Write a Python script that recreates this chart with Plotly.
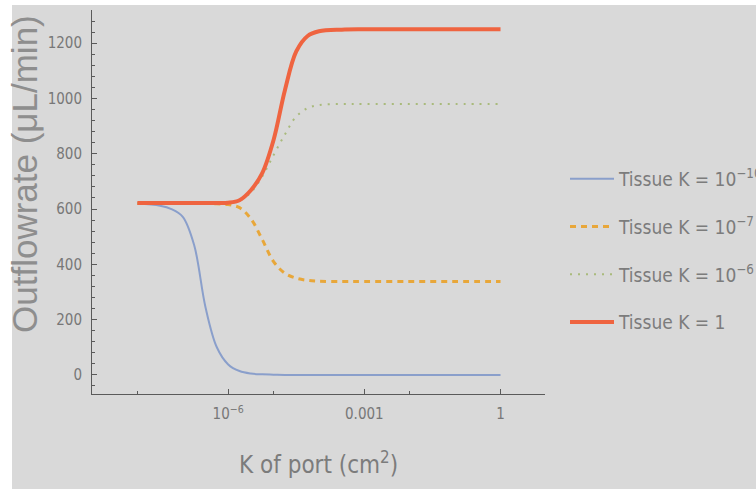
import plotly.graph_objects as go

# log10 of port permeability K (cm^2)
k_exp = [-8, -7.5, -7.25, -7, -6.75, -6.5, -6.25, -6, -5.75, -5.5, -5.25, -5,
         -4.75, -4.5, -4.25, -4, -3.5, -3, -2, -1, 0]
k_port = [10 ** e for e in k_exp]

series_names = ["Tissue K = 10<sup>−10</sup>", "Tissue K = 10<sup>−7</sup>",
                "Tissue K = 10<sup>−6</sup>", "Tissue K = 1"]

tissue_1e_10 = [620, 612, 600, 572, 470, 245, 100, 38, 14, 5, 2, 1,
                0, 0, 0, 0, 0, 0, 0, 0, 0]
tissue_1e_7 = [620, 620, 620, 620, 620, 620, 619, 616, 605, 565, 490, 410,
               368, 350, 342, 339, 338, 338, 338, 338, 338]
tissue_1e_6 = [620, 620, 620, 620, 620, 620, 620, 621, 630, 660, 718, 795,
               870, 935, 965, 976, 980, 980, 980, 980, 980]
tissue_1 = [622, 622, 622, 622, 622, 622, 622, 623, 632, 668, 730, 850,
            1030, 1170, 1226, 1243, 1249, 1250, 1250, 1250, 1250]

x_tickvals = [1e-6, 1e-3, 1]
x_ticktext = ["10<sup>−6</sup>", "0.001", "1"]
x_minorvals = [1e-8, 1e-5, 1e-2]
y_tickvals = [0, 200, 400, 600, 800, 1000, 1200]

styles = [
    dict(color="#8a9fcb", width=2, dash="solid"),
    dict(color="#e8a73a", width=3, dash="6px,5px"),
    dict(color="#a9ba7c", width=2, dash="2px,6px"),
    dict(color="#ef6440", width=4, dash="solid"),
]
series = [tissue_1e_10, tissue_1e_7, tissue_1e_6, tissue_1]

NARROW = "DejaVu Sans Condensed, Liberation Sans, sans-serif"

fig = go.Figure()
for i, (name, vals, st) in enumerate(zip(series_names, series, styles)):
    fig.add_trace(go.Scatter(
        x=k_port, y=vals, mode="lines", name=name,
        line=dict(color=st["color"], width=st["width"], dash=st["dash"],
                  shape="spline", smoothing=1.0),
        legendgroup=f"g{i}",
    ))

# pixel geometry helpers
W, H = 756, 489
L, R, T, B = 92, 211, 10, 95
PW, PH = W - L - R, H - T - B


def px_x(p):
    return (p - L) / PW


def px_y(p):
    return (H - B - p) / PH


fig.update_layout(
    width=W, height=H,
    margin=dict(l=L, r=R, t=T, b=B, autoexpand=False),
    paper_bgcolor="#d9d9d9",
    plot_bgcolor="rgba(0,0,0,0)",
    showlegend=True,
    legend=dict(
        x=px_x(565), y=px_y(160), xanchor="left", yanchor="top",
        bgcolor="rgba(0,0,0,0)",
        font=dict(family=NARROW, size=19, color="#7c7c7c"),
        itemwidth=44, tracegroupgap=20,
    ),
    xaxis=dict(
        type="log", range=[-9.0, 0.98],
        showline=True, linecolor="#5a5a5a", linewidth=1,
        showgrid=False, zeroline=False,
        tickmode="array", tickvals=x_tickvals, ticktext=x_ticktext,
        ticks="inside", ticklen=5, tickcolor="#5a5a5a",
        minor=dict(tickmode="array", tickvals=x_minorvals, ticks="inside",
                   ticklen=3, tickcolor="#5a5a5a"),
        tickfont=dict(family=NARROW, size=15, color="#777777"),
        ticklabelstandoff=6,
    ),
    yaxis=dict(
        range=[-69, 1320],
        showline=True, linecolor="#5a5a5a", linewidth=1,
        showgrid=False, zeroline=False,
        tickmode="array", tickvals=y_tickvals,
        ticks="inside", ticklen=5, tickcolor="#5a5a5a",
        minor=dict(dtick=40, tick0=0, ticks="inside", ticklen=3,
                   tickcolor="#5a5a5a"),
        tickfont=dict(family=NARROW, size=15, color="#777777"),
        ticklabelstandoff=6,
    ),
    shapes=[
        dict(type="rect", xref="paper", yref="paper", layer="below",
             x0=px_x(0), x1=px_x(12), y0=px_y(H), y1=px_y(0),
             fillcolor="white", line=dict(width=0)),
        dict(type="rect", xref="paper", yref="paper", layer="below",
             x0=px_x(0), x1=px_x(W), y0=px_y(5), y1=px_y(0),
             fillcolor="white", line=dict(width=0)),
    ],
    annotations=[
        dict(text="Outflowrate (μL/min)", textangle=-90, showarrow=False,
             xref="paper", yref="paper", x=px_x(24), y=px_y(174),
             xanchor="center", yanchor="middle",
             font=dict(family="Liberation Sans", size=35, color="#8e8e8e")),
        dict(text="K of port (cm<sup>2</sup>)", showarrow=False,
             xref="paper", yref="paper", x=px_x(318), y=px_y(463),
             xanchor="center", yanchor="middle",
             font=dict(family=NARROW, size=24, color="#7c7c7c")),
    ],
)

fig.write_html("out.html", config={"displayModeBar": False},
               post_script="document.body.style.margin='0';")
